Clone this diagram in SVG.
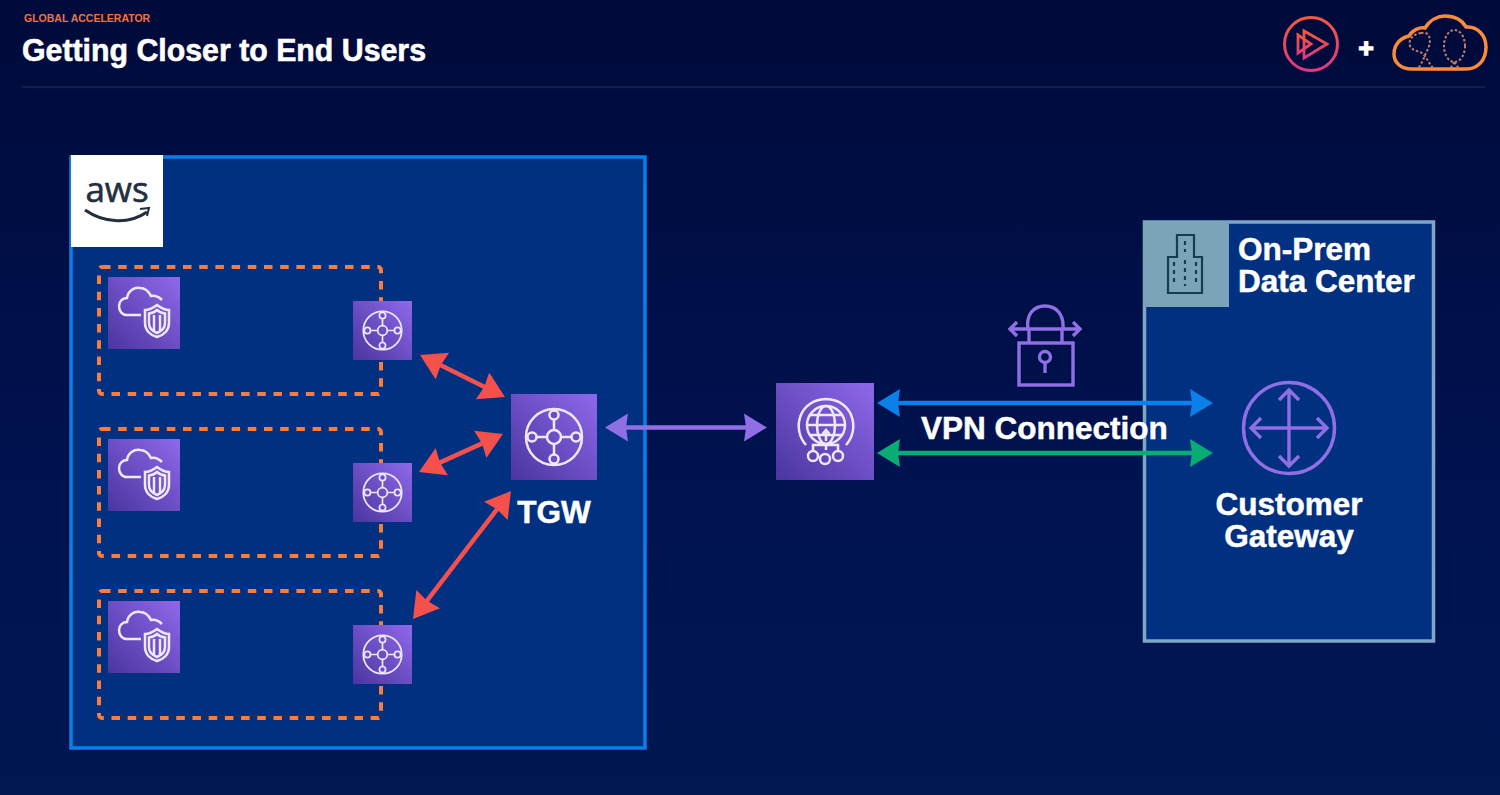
<svg xmlns="http://www.w3.org/2000/svg" xmlns:xlink="http://www.w3.org/1999/xlink" width="1500" height="795" viewBox="0 0 1500 795">
<style>
text{font-family:"Liberation Sans",Arial,sans-serif;font-weight:700;fill:#fff}
.lbl{font-size:31.500px;stroke:#fff;stroke-width:.5}
.dash{fill:none;stroke:#fb7d3c;stroke-width:4;stroke-dasharray:8.500 7.700}
.ico{fill:none;stroke:#efe8fa;stroke-width:2.500}
.vio{fill:none;stroke:#8f6fe3;stroke-width:3.400}
.con{fill:none;stroke-width:4.500}
</style>
<defs>
<linearGradient id="bg" x1="0" y1="0" x2="0" y2="1"><stop offset="0" stop-color="#000a3a"/><stop offset="0.6" stop-color="#001250"/><stop offset="1" stop-color="#001752"/></linearGradient>
<linearGradient id="tile" x1="0" y1="1" x2="1" y2="0"><stop offset="0" stop-color="#4a359f"/><stop offset="1" stop-color="#8f68ea"/></linearGradient>
<linearGradient id="ps" x1="0" y1="0" x2="0" y2="1"><stop offset="0" stop-color="#f4593f"/><stop offset="1" stop-color="#e0377f"/></linearGradient>
<marker id="aR" markerUnits="userSpaceOnUse" markerWidth="30" markerHeight="32" refX="18" refY="15" orient="auto-start-reverse"><path d="M0 0L25 15L0 30L2 15Z" fill="#f4504c"/></marker>
<marker id="aP" markerUnits="userSpaceOnUse" markerWidth="30" markerHeight="32" refX="18" refY="15" orient="auto-start-reverse"><path d="M0 1L23 15L0 29L2 15Z" fill="#8f6fe3"/></marker>
<marker id="aB" markerUnits="userSpaceOnUse" markerWidth="30" markerHeight="32" refX="18" refY="15" orient="auto-start-reverse"><path d="M0 1L23 15L0 29L2 15Z" fill="#0a80e8"/></marker>
<marker id="aG" markerUnits="userSpaceOnUse" markerWidth="30" markerHeight="32" refX="18" refY="15" orient="auto-start-reverse"><path d="M0 1L23 15L0 29L2 15Z" fill="#08ad74"/></marker>
<symbol id="tgwIcon" viewBox="0 0 86 86">
<rect width="86" height="86" fill="url(#tile)"/>
<g class="ico" stroke-width="2.800"><circle cx="43" cy="43" r="28"/><circle cx="43" cy="43" r="7"/><circle cx="43" cy="21" r="4.500" fill="#6a4fc4"/><circle cx="43" cy="65" r="4.500" fill="#6a4fc4"/><circle cx="21" cy="43" r="4.500" fill="#6a4fc4"/><circle cx="65" cy="43" r="4.500" fill="#6a4fc4"/><path d="M43 25.500V36M43 50V60.500M25.500 43H36M50 43H60.500"/></g>
</symbol>
<symbol id="vpcIcon" viewBox="0 0 72 72">
<rect width="72" height="72" fill="url(#tile)"/>
<g class="ico" stroke-width="1.800"><path d="M33 38H19C14 38 11 34 11 29C11 24 15 21 19 21C20 14 26 10 32 11C37 11 41 15 43 19C47 18 51 20 54 23"/><path d="M49 28C45 31 41 33 37 33V46C37 53 42 58 49 60C56 58 61 53 61 46V33C57 33 53 31 49 28Z"/><path d="M49 33C47 35 44 36 41 36.500V46C41 50 44 54 49 56C54 54 57 50 57 46V36.500C54 36 51 35 49 33Z"/><path d="M46 38V54M52 38V54"/></g>
</symbol>
</defs>

<rect width="1500" height="795" fill="url(#bg)"/>
<path d="M22 87H1485" stroke="#0c2a62" stroke-width="1.500"/>
<text x="24" y="22" font-size="10.500" style="fill:#f5713a">GLOBAL ACCELERATOR</text>
<text x="22" y="61" font-size="31.500" stroke="#fff" stroke-width=".6" textLength="404" lengthAdjust="spacingAndGlyphs">Getting Closer to End Users</text>

<g id="logo-play" fill="none" stroke="url(#ps)">
<circle cx="1311" cy="44" r="26.500" stroke-width="3"/>
<path d="M1298 35V53L1311 44Z M1304 31V58L1327 44Z" stroke-width="2.800"/>
</g>
<text id="plus" x="1366" y="57" font-size="26" stroke="#fff" stroke-width="1.500" text-anchor="middle">+</text>
<g id="logo-cloud" fill="none">
<path d="M1412 69C1400 69 1394 62 1394 54C1394 45 1400 38 1409 36C1412 30 1420 27 1425 28C1430 20 1438 16 1445 16C1455 16 1462 20 1466 27C1478 26 1486 36 1486 47C1486 60 1478 69 1466 69Z" stroke="#fb8a3c" stroke-width="3.500"/>
<g stroke="#c77b6a" stroke-width="2" stroke-dasharray="2.500 2">
<path d="M1421 33C1413 34 1408 40 1410 46C1413 52 1420 50 1424 55C1428 60 1430 65 1434 69"/>
<path d="M1421 33C1430 31 1431 40 1429 46C1427 52 1425 54 1424 58C1422 62 1420 66 1418 69"/>
<ellipse cx="1454.500" cy="46" rx="10.500" ry="16"/>
<path d="M1454.500 62L1450 69M1454.500 62L1459 69"/>
</g>
</g>

<g id="aws-cloud">
<rect x="71" y="157" width="574" height="591" fill="#013080" stroke="#0b7fe8" stroke-width="3.500"/>
<rect x="71" y="155" width="92" height="92" fill="#fff"/>
<text x="117" y="202" font-size="35" text-anchor="middle" stroke="#232f3e" stroke-width=".6" style="fill:#232f3e;font-family:'Open Sans','Liberation Sans',sans-serif;font-weight:400">aws</text>
<path d="M85 210C105 224 130 224 147 212" fill="none" stroke="#232f3e" stroke-width="3"/>
<path d="M140 209L149 208L147 216" fill="none" stroke="#232f3e" stroke-width="2"/>
</g>

<g id="subnet-1">
<rect class="dash" x="99" y="267" width="282" height="127" rx="3"/>
<use href="#vpcIcon" x="108" y="277" width="72" height="72"/>
</g>
<g id="subnet-2">
<rect class="dash" x="99" y="429" width="282" height="127" rx="3"/>
<use href="#vpcIcon" x="108" y="439" width="72" height="72"/>
</g>
<g id="subnet-3">
<rect class="dash" x="99" y="591" width="282" height="127" rx="3"/>
<use href="#vpcIcon" x="108" y="601" width="72" height="72"/>
</g>
<g id="attach-1"><use href="#tgwIcon" x="353" y="301" width="59" height="59"/></g>
<g id="attach-2"><use href="#tgwIcon" x="353" y="463" width="59" height="59"/></g>
<g id="attach-3"><use href="#tgwIcon" x="353" y="625" width="59" height="59"/></g>

<g id="tgw">
<use href="#tgwIcon" x="511" y="394" width="86" height="86"/>
<text class="lbl" x="554" y="523" text-anchor="middle">TGW</text>
</g>

<g id="on-prem">
<rect x="1144.500" y="222" width="289" height="419" fill="#013080" stroke="#7fa6c6" stroke-width="3.500"/>
<rect x="1143" y="221" width="86" height="86" fill="#7ba4b8"/>
<g fill="none" stroke="#123f50" stroke-width="2.200">
<path d="M1168 293V257H1177V235H1194V257H1202V293Z"/>
<path d="M1185 241V252M1174 262V286M1185 260V286M1196 262V286" stroke-dasharray="4 4"/>
</g>
<text class="lbl" x="1238" y="260">On-Prem</text>
<text class="lbl" x="1238" y="292">Data Center</text>
</g>

<g id="customer-gateway">
<circle class="vio" cx="1289" cy="428" r="45.500" stroke-width="4"/>
<path class="vio" stroke-width="3.800" d="M1289 390V466M1251 428H1327M1279 400L1289 390L1299 400M1279 456L1289 466L1299 456M1261 418L1251 428L1261 438M1317 418L1327 428L1317 438"/>
<text class="lbl" x="1289" y="515" text-anchor="middle">Customer</text>
<text class="lbl" x="1289" y="547" text-anchor="middle">Gateway</text>
</g>

<g id="vpn-gateway">
<rect x="776" y="383" width="98" height="97" fill="url(#tile)"/>
<g class="ico">
<circle cx="826" cy="425" r="19"/>
<ellipse cx="826" cy="425" rx="9" ry="19"/>
<path d="M807 425H845M810 415H842M810 435H842"/>
<path d="M806 445C792 430 798 400 826 399C854 400 860 430 846 445"/>
<path d="M826 441V431M822.500 434L826 430L829.500 434M826 444V450M813 451V445H838V451"/>
<circle cx="813" cy="456" r="5"/><circle cx="825" cy="459" r="5"/><circle cx="838" cy="456" r="5"/>
</g>
</g>

<g id="vpn-lock">
<path class="vio" d="M1028 329C1026 315 1033 306 1045 306C1057 306 1064 315 1063 329M1029 329V343M1062 329V343M1011 329H1079M1017 322L1010 329L1017 336M1073 322L1080 329L1073 336"/>
<rect class="vio" x="1019" y="343" width="54" height="42"/>
<circle class="vio" cx="1045" cy="357" r="5.500"/>
<path class="vio" d="M1045 363V373"/>
</g>

<text id="vpn-label" class="lbl" x="921" y="439">VPN Connection</text>

<g id="connectors">
<path class="con" stroke="#f4504c" marker-start="url(#aR)" marker-end="url(#aR)" d="M426.300 358.100L498.700 393.900"/>
<path class="con" stroke="#f4504c" marker-start="url(#aR)" marker-end="url(#aR)" d="M425.400 469.100L496.600 436.900"/>
<path class="con" stroke="#f4504c" marker-start="url(#aR)" marker-end="url(#aR)" d="M417.300 613.400L506.700 496.600"/>
<path class="con" stroke="#8f6fe3" marker-start="url(#aP)" marker-end="url(#aP)" d="M610 427.500H762"/>
<path class="con" stroke="#0a80e8" marker-start="url(#aB)" marker-end="url(#aB)" d="M882 403H1208"/>
<path class="con" stroke="#08ad74" marker-start="url(#aG)" marker-end="url(#aG)" d="M882 453H1208"/>
</g>
</svg>
